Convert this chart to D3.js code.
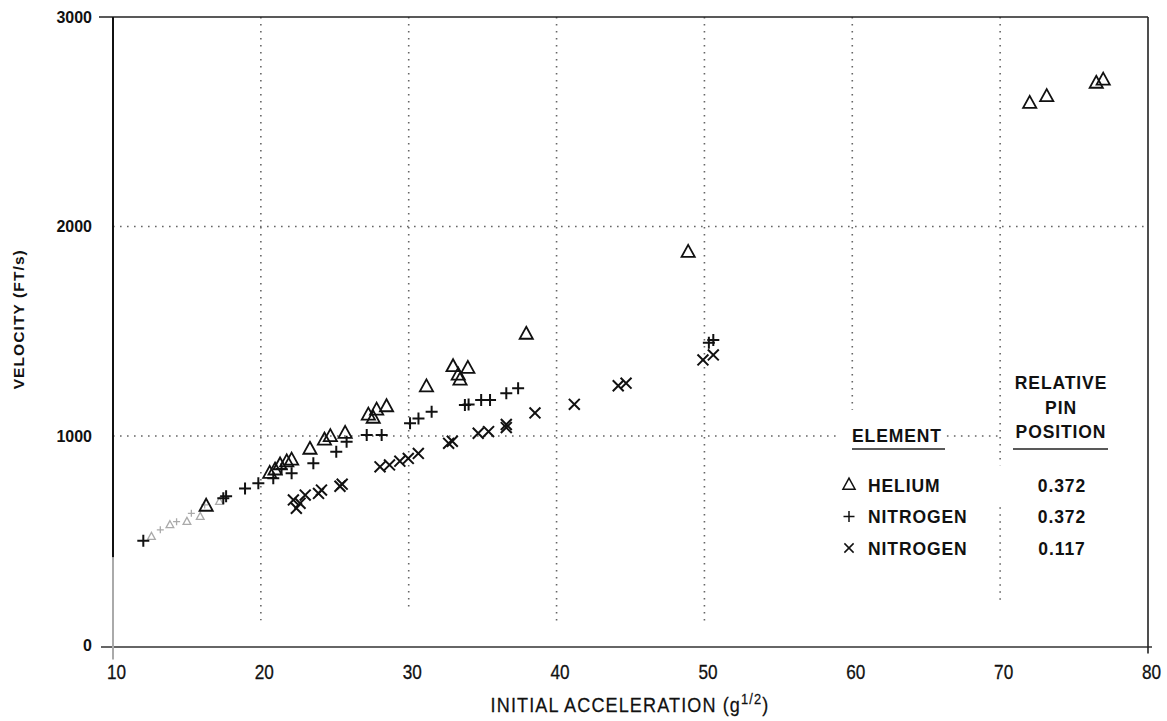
<!DOCTYPE html>
<html>
<head>
<meta charset="utf-8">
<script src="https://cdn.jsdelivr.net/npm/d3@7"></script>
<style>
  body { margin: 0; background: #fff; }
  text { fill: #111; }
</style>
</head>
<body>
<svg id="chart" width="1167" height="721"></svg>
<script>
// Axis ticks
const xTicks = [10, 20, 30, 40, 50, 60, 70, 80];
const yTicks = [0, 1000, 2000, 3000];

// Helium, relative pin position 0.372  [initial acceleration, velocity]
const helium = [
  [16.3, 665], [20.6, 822], [20.96, 838], [21.3, 862], [21.75, 877], [22.08, 885],
  [23.32, 937], [24.3, 981], [24.7, 997], [25.7, 1013], [27.6, 1085],
  [27.27, 1100], [27.83, 1124], [28.5, 1140], [31.2, 1235], [33.0, 1331],
  [33.35, 1291], [34.0, 1323], [33.47, 1267], [37.95, 1486], [48.9, 1877],
  [72.0, 2588], [73.15, 2620], [76.5, 2684], [76.97, 2699]
];
const heliumFaint = [[12.6, 519], [13.85, 575], [15.0, 591], [15.9, 615], [17.2, 686]];

// Nitrogen, relative pin position 0.372
const nitrogenA = [
  [12.05, 500], [17.46, 703], [17.65, 712], [18.93, 750], [19.83, 774],
  [20.84, 798], [21.4, 842], [22.08, 822], [23.55, 870], [25.1, 925],
  [25.8, 973], [27.16, 1005], [28.17, 1005], [30.09, 1061], [30.66, 1084],
  [31.55, 1116], [33.8, 1148], [34.05, 1150], [34.9, 1172], [35.5, 1172],
  [36.6, 1204], [37.4, 1228], [50.3, 1445], [50.6, 1458]
];
const nitrogenAFaint = [[13.2, 552], [14.3, 591], [15.3, 631], [16.2, 671]];

// Nitrogen, relative pin position 0.117
const nitrogenB = [
  [22.2, 695], [22.4, 655], [22.65, 679], [23.0, 718], [23.9, 726], [24.1, 742],
  [25.35, 760], [25.5, 770], [28.06, 853], [28.7, 862], [29.4, 880],
  [29.97, 893], [30.65, 917], [32.7, 965], [32.95, 975], [34.7, 1013],
  [35.4, 1021], [36.6, 1040], [36.6, 1055], [38.54, 1110], [41.2, 1151],
  [44.17, 1240], [44.7, 1252], [49.9, 1363], [50.6, 1387]
];

// Dotted grid segments: [x, yFrom, yTo] and [y, xFrom, xTo]
const verticalGrid = [
  [20, 3000, 120], [30, 3000, 170], [40, 3000, 100], [50, 3000, 100],
  [60, 3000, 1125], [70, 3000, 860], [70, 660, 200]
];
const horizontalGrid = [[2000, 10, 80], [1000, 10, 59.2], [1000, 66.4, 70]];

// Legend entries
const legendSymbols = ["triangle", "plus", "cross"];
const legendElements = ["HELIUM", "NITROGEN", "NITROGEN"];
const legendPositions = ["0.372", "0.372", "0.117"];

const svg = d3.select("#chart");
const x = d3.scaleLinear().domain([10, 80]).range([113, 1148]);
const y = d3.scaleLinear().domain([0, 3000]).range([645.5, 17]);

// grid
const grid = svg.append("g")
  .attr("stroke", "#666").attr("stroke-width", 1.6)
  .attr("stroke-dasharray", "1.6,5.4").attr("fill", "none");
grid.selectAll("line.v").data(verticalGrid).join("line").attr("class", "v")
  .attr("x1", d => x(d[0])).attr("x2", d => x(d[0]))
  .attr("y1", d => y(d[1])).attr("y2", d => y(d[2]));
grid.selectAll("line.h").data(horizontalGrid).join("line").attr("class", "h")
  .attr("y1", d => y(d[0])).attr("y2", d => y(d[0]))
  .attr("x1", d => x(d[1])).attr("x2", d => x(d[2]));

// frame
const frame = svg.append("g").attr("fill", "none");
frame.append("line").attr("x1", x(10) - 14).attr("x2", x(80))
  .attr("y1", y(3000)).attr("y2", y(3000)).attr("stroke", "#222").attr("stroke-width", 1.4);
frame.append("line").attr("x1", x(10) - 12).attr("x2", x(80) + 4)
  .attr("y1", y(0) + 1.5).attr("y2", y(0) + 1.5).attr("stroke", "#333").attr("stroke-width", 1.4);
frame.append("line").attr("x1", x(10)).attr("x2", x(10))
  .attr("y1", y(3000)).attr("y2", y(420)).attr("stroke", "#111").attr("stroke-width", 2);
frame.append("line").attr("x1", x(10)).attr("x2", x(10))
  .attr("y1", y(420)).attr("y2", y(0) + 14).attr("stroke", "#aaa").attr("stroke-width", 2);
frame.append("line").attr("x1", x(80)).attr("x2", x(80))
  .attr("y1", y(3000)).attr("y2", y(0) + 8).attr("stroke", "#222").attr("stroke-width", 1.6);

// axes labels via d3 axes
const yAxis = svg.append("g").attr("transform", `translate(${x(10) - 19},0)`)
  .call(d3.axisLeft(y).tickValues(yTicks).tickSize(0).tickPadding(2).tickFormat(d3.format("d")));
yAxis.select(".domain").remove();
yAxis.selectAll("text").attr("font-family", "Liberation Sans, Arial, sans-serif")
  .attr("font-size", 16).attr("font-weight", "bold").attr("fill", "#111");

const xAxis = svg.append("g").attr("transform", `translate(3,${y(0) + 19})`)
  .call(d3.axisBottom(x).tickValues(xTicks).tickSize(0).tickPadding(0).tickFormat(d3.format("d")));
xAxis.select(".domain").remove();
xAxis.selectAll("text").attr("font-family", "Liberation Sans, Arial, sans-serif")
  .attr("font-size", 20).attr("transform", "scale(0.86,1)")
  .attr("fill", "#111").attr("stroke", "#111").attr("stroke-width", 0.3);

// axis titles
svg.append("text")
  .attr("transform", `translate(24,${(y(0) + y(3000)) / 2 - 12}) rotate(-90)`)
  .attr("text-anchor", "middle")
  .attr("font-family", "Liberation Sans, Arial, sans-serif")
  .attr("font-size", 15.5).attr("font-weight", "bold").attr("letter-spacing", 1.1)
  .text("VELOCITY (FT/s)");

const xt = svg.append("text")
  .attr("transform", "translate(630,712) scale(0.86,1)")
  .attr("text-anchor", "middle")
  .attr("font-family", "Liberation Sans, Arial, sans-serif")
  .attr("font-size", 21).attr("letter-spacing", 1.3)
  .attr("stroke", "#111").attr("stroke-width", 0.25);
xt.append("tspan").text("INITIAL ACCELERATION (g");
xt.append("tspan").attr("font-size", 15).attr("dy", -8).text("1/2");
xt.append("tspan").attr("dy", 8).text(")");

// marker shapes
function symbolPath(kind, s) {
  if (kind === "triangle") {
    return `M0,${-s * 0.62}L${s * 0.55},${s * 0.38}L${-s * 0.55},${s * 0.38}Z`;
  }
  if (kind === "plus") {
    return `M${-s / 2},0H${s / 2}M0,${-s / 2}V${s / 2}`;
  }
  const h = s * 0.42;
  return `M${-h},${-h}L${h},${h}M${-h},${h}L${h},${-h}`;
}

function drawSeries(data, kind, size, color, width) {
  svg.append("g").selectAll("path").data(data).join("path")
    .attr("transform", d => `translate(${x(d[0])},${y(d[1])})`)
    .attr("d", symbolPath(kind, size))
    .attr("fill", "none").attr("stroke", color).attr("stroke-width", width)
    .attr("stroke-linejoin", "miter");
}

drawSeries(heliumFaint, "triangle", 7, "#aaa", 1.3);
drawSeries(nitrogenAFaint, "plus", 7, "#aaa", 1.3);
drawSeries(helium, "triangle", 12, "#111", 1.8);
drawSeries(nitrogenA, "plus", 12, "#111", 2);
drawSeries(nitrogenB, "cross", 13, "#111", 2);

// legend
const lg = svg.append("g")
  .attr("font-family", "Liberation Sans, Arial, sans-serif")
  .attr("font-weight", "bold").attr("font-size", 17.5).attr("letter-spacing", 0.9);
lg.append("text").attr("x", 852).attr("y", 442).text("ELEMENT");
lg.append("line").attr("x1", 852).attr("x2", 945).attr("y1", 449).attr("y2", 449)
  .attr("stroke", "#222").attr("stroke-width", 1.6);
["RELATIVE", "PIN", "POSITION"].forEach((t, i) => {
  lg.append("text").attr("x", 1061).attr("y", 389 + i * 24.5)
    .attr("text-anchor", "middle").text(t);
});
lg.append("line").attr("x1", 1013).attr("x2", 1108).attr("y1", 449).attr("y2", 449)
  .attr("stroke", "#222").attr("stroke-width", 1.6);

const rows = lg.selectAll("g.row").data(legendElements).join("g").attr("class", "row")
  .attr("transform", (d, i) => `translate(0,${485 + i * 31.5})`);
rows.append("path")
  .attr("transform", "translate(849,0)")
  .attr("d", (d, i) => symbolPath(legendSymbols[i], 11))
  .attr("fill", "none").attr("stroke", "#111").attr("stroke-width", 1.5);
rows.append("text").attr("x", 868).attr("y", 6.5).text(d => d);
rows.append("text").attr("x", 1062).attr("y", 6.5).attr("text-anchor", "middle")
  .text((d, i) => legendPositions[i]);
</script>
</body>
</html>
